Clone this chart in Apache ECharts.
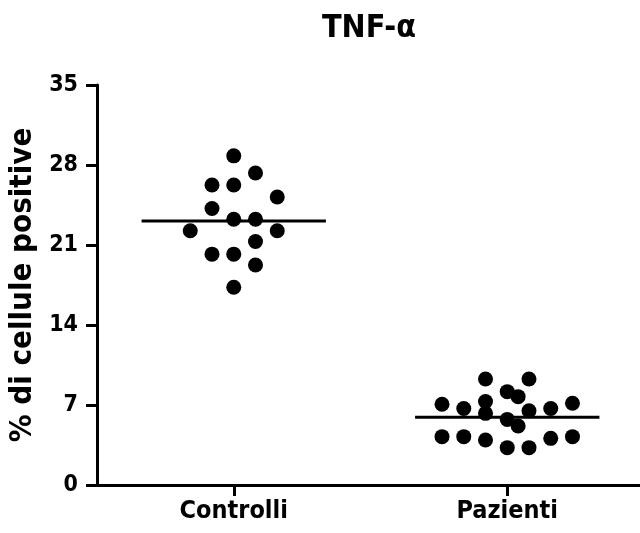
<!DOCTYPE html>
<html>
<head>
<meta charset="utf-8">
<script src="https://cdn.jsdelivr.net/npm/echarts@6/dist/echarts.min.js"></script>
<style>
html,body{margin:0;padding:0;background:#fff;}
#chart{width:640px;height:533px;}
</style>
</head>
<body>
<div id="chart"></div>
<script>
// ---- data ----
var categories = ['Controlli', 'Pazienti'];
var yTicks = [0, 7, 14, 21, 28, 35];
var controlValues = [28.8, 27.3, 26.25, 26.25, 25.2, 24.2, 23.25, 23.25, 22.25, 22.25, 21.3, 20.2, 20.2, 19.25, 17.3];
var controlColumns = [0, 1, -1, 0, 2, -1, 0, 1, -2, 2, 1, -1, 0, 1, 0];
var patientValues = [9.27, 9.27, 8.17, 7.73, 7.06, 6.7, 7.3, 6.27, 6.5, 6.7, 7.15, 5.74, 5.16, 4.23, 4.23, 3.94, 3.27, 3.27, 4.08, 4.23];
var patientColumns = [-1, 1, 0, 0.5, -3, -2, -1, -1, 1, 2, 3, 0, 0.5, -3, -2, -1, 0, 1, 2, 3];
var groupMeans = [23.1, 5.92];

// ---- style constants ----
var FONT = "'DejaVu Sans Condensed','Liberation Sans Narrow','Arial Narrow','Liberation Sans',Arial,sans-serif";
var colStep = 0.0795;     // horizontal spacing of dot columns (axis units)
var meanHalf = 0.337;     // half width of mean line (axis units)

function pts(vals, cols, idx) {
  var c = idx + 0.5;
  return vals.map(function (v, i) { return [c + cols[i] * colStep, v]; });
}
var meanSeries = groupMeans.map(function (m, i) {
  var c = i + 0.5;
  return {
    type: 'line', data: [[c - meanHalf, m], [c + meanHalf, m]],
    symbol: 'none', lineStyle: { color: '#000', width: 3 }, silent: true, z: 3,
    animation: false
  };
});

var chart = echarts.init(document.getElementById('chart'), null, { renderer: 'canvas' });
chart.setOption({
  animation: false,
  backgroundColor: '#fff',
  title: {
    text: 'TNF-α', left: 364, textAlign: 'center', top: 8,
    textStyle: { fontFamily: FONT, fontWeight: 'bold', fontSize: 32, color: '#000' }
  },
  grid: { left: 97, right: -4, top: 85, bottom: 48, containLabel: false, outerBoundsMode: 'none' },
  xAxis: {
    type: 'value', min: 0, max: 2,
    splitLine: { show: false },
    axisLine: { show: true, lineStyle: { color: '#000', width: 3 } },
    axisTick: { show: true, customValues: [0.5, 1.5], length: 11, lineStyle: { color: '#000', width: 3 } },
    axisLabel: {
      customValues: [0.5, 1.5], margin: 14,
      formatter: function (v) { return categories[Math.round(v - 0.5)]; },
      fontFamily: FONT, fontWeight: 'bold', fontSize: 25, color: '#000'
    }
  },
  yAxis: {
    type: 'value', min: yTicks[0], max: yTicks[yTicks.length - 1], interval: 7,
    name: '% di cellule positive', nameLocation: 'middle', nameGap: 57, nameRotate: 90,
    nameTextStyle: { fontFamily: FONT, fontWeight: 'bold', fontSize: 31, color: '#000' },
    splitLine: { show: false },
    axisLine: { show: true, lineStyle: { color: '#000', width: 3 } },
    axisTick: { show: true, length: 11, lineStyle: { color: '#000', width: 3 } },
    axisLabel: { margin: 19, fontFamily: FONT, fontWeight: 'bold', fontSize: 23, color: '#000' }
  },
  series: [
    { type: 'scatter', data: pts(controlValues, controlColumns, 0), symbol: 'circle', symbolSize: 15,
      itemStyle: { color: '#000', opacity: 1 }, z: 4 },
    { type: 'scatter', data: pts(patientValues, patientColumns, 1), symbol: 'circle', symbolSize: 15,
      itemStyle: { color: '#000', opacity: 1 }, z: 4 }
  ].concat(meanSeries)
});
</script>
</body>
</html>
